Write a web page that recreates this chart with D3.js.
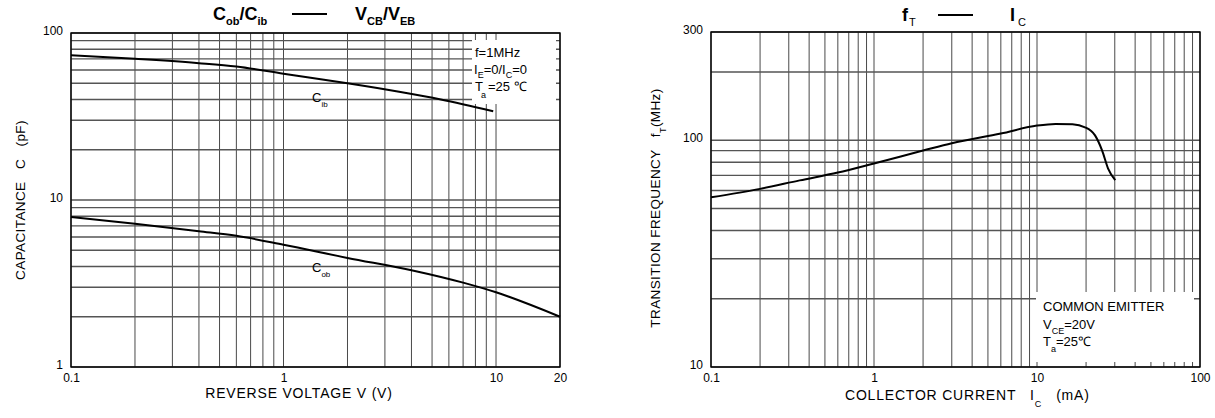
<!DOCTYPE html>
<html><head><meta charset="utf-8">
<script src="https://cdn.jsdelivr.net/npm/d3@7"></script>
<style>
body{margin:0;background:#fff;}
svg{display:block;font-family:"Liberation Sans",Arial,sans-serif;}
text{white-space:pre;}
</style></head>
<body><svg id="c" width="1215" height="418"></svg>
<script>
// ---- data ----
const cibVoltage = [0.1, 0.2, 0.4, 0.6, 1, 2, 3.5, 5.5, 9.7];
const cibCap     = [73.5, 70, 66, 63, 57, 50, 44.5, 40, 34];
const cobVoltage = [0.1, 0.2, 0.4, 0.6, 1, 2, 4, 7, 10, 20];
const cobCap     = [7.9, 7.2, 6.5, 6.1, 5.4, 4.5, 3.8, 3.2, 2.8, 2.0];
const icCurrent  = [0.1, 0.2, 0.35, 0.6, 1, 2, 3, 6, 10, 13, 16.5, 19.7, 22.7, 25.1, 27.3, 30.2];
const ftFreq     = [56, 61, 66.5, 72, 79, 90, 97, 107, 116, 118, 117.5, 114, 105, 90, 75, 66.7];
const leftXTicks = [0.1, 1, 10, 20];
const leftYTicks = [100, 10, 1];
const rightXTicks = [0.1, 1, 10, 100];
const rightYTicks = [300, 100, 10];

const svg = d3.select("#c");

function logGrid(lo, hi){
  const out=[];
  for(let e=Math.floor(Math.log10(lo)); e<=Math.ceil(Math.log10(hi)); e++){
    for(let m=1;m<10;m++){const v=m*Math.pow(10,e); if(v>=lo*0.999 && v<=hi*1.001) out.push(+v.toPrecision(3));}
  }
  return out;
}

function panel(opt){
  const x = d3.scaleLog().domain(opt.xd).range([opt.l, opt.r]);
  const y = d3.scaleLog().domain(opt.yd).range([opt.b, opt.t]);
  const g = svg.append("g");
  g.selectAll(".vg").data(logGrid(opt.xd[0],opt.xd[1])).enter().append("line")
    .attr("x1",d=>x(d)).attr("x2",d=>x(d)).attr("y1",opt.t).attr("y2",opt.b)
    .attr("stroke","#4a4a4a").attr("stroke-width",1);
  g.selectAll(".hg").data(logGrid(opt.yd[0],opt.yd[1])).enter().append("line")
    .attr("y1",d=>y(d)).attr("y2",d=>y(d)).attr("x1",opt.l).attr("x2",opt.r)
    .attr("stroke","#555").attr("stroke-width",1.4);
  g.append("rect").attr("x",opt.box[0]).attr("y",opt.box[1]).attr("width",opt.box[2]).attr("height",opt.box[3]).attr("fill","#fff");
  g.append("rect").attr("x",opt.l).attr("y",opt.t).attr("width",opt.r-opt.l).attr("height",opt.b-opt.t)
    .attr("fill","none").attr("stroke","#000").attr("stroke-width",1.4);
  const xa = d3.axisBottom(x).tickValues(opt.xt).tickFormat(d=>String(d)).tickSize(0).tickPadding(6);
  const ya = d3.axisLeft(y).tickValues(opt.yt).tickFormat(d=>String(d)).tickSize(0).tickPadding(8);
  const gx = g.append("g").attr("transform",`translate(0,${opt.b})`).call(xa);
  const gy = g.append("g").attr("transform",`translate(${opt.l},0)`).call(ya);
  [gx,gy].forEach(a=>{a.select(".domain").remove(); a.selectAll("text").attr("font-size",12).attr("fill","#000").style("font-family","Liberation Sans, Arial, sans-serif");});
  gy.selectAll("text").attr("dy","0.1em");
  return {x,y,g};
}

const line = (x,y)=>d3.line().x(d=>x(d[0])).y(d=>y(d[1])).curve(d3.curveMonotoneX);

// ---- left panel ----
const L = panel({xd:[0.1,20], yd:[1,100], l:71, r:560, t:33, b:367, xt:leftXTicks, yt:leftYTicks, box:[472,40,84,64]});
L.g.append("path").datum(d3.zip(cibVoltage,cibCap)).attr("d",line(L.x,L.y)).attr("fill","none").attr("stroke","#000").attr("stroke-width",2);
L.g.append("path").datum(d3.zip(cobVoltage,cobCap)).attr("d",line(L.x,L.y)).attr("fill","none").attr("stroke","#000").attr("stroke-width",2);

// ---- right panel ----
const R = panel({xd:[0.1,100], yd:[10,300], l:711, r:1200, t:32, b:367, xt:rightXTicks, yt:rightYTicks, box:[1036,292,158,70]});
R.g.append("path").datum(d3.zip(icCurrent,ftFreq)).attr("d",line(R.x,R.y)).attr("fill","none").attr("stroke","#000").attr("stroke-width",2);

// ---- texts ----
function rich(parent, x, y, parts, size, attrs){
  const t = parent.append("text").attr("x",x).attr("y",y).attr("font-size",size).attr("fill","#000");
  if(attrs) Object.entries(attrs).forEach(([k,v])=>t.attr(k,v));
  parts.forEach(p=>{
    const ts = t.append("tspan").text(p.t);
    if(p.sub){ ts.attr("font-size",p.sz||size*0.62).attr("dy",p.dy||6); }
    else if(p.up){ ts.attr("dy",-p.up); }
    if(p.dx) ts.attr("dx",p.dx);
    if(p.w) ts.attr("font-weight",p.w);
  });
  return t;
}

// titles
rich(svg, 213, 20, [{t:"C",w:"bold"},{t:"ob",sub:1,sz:11,dy:5,w:"bold"},{t:"/C",up:5,w:"bold"},{t:"ib",sub:1,sz:11,dy:5,w:"bold"}], 18);
svg.append("line").attr("x1",292).attr("x2",327).attr("y1",14).attr("y2",14).attr("stroke","#000").attr("stroke-width",2.2);
rich(svg, 355, 20, [{t:"V",w:"bold"},{t:"CB",sub:1,sz:11,dy:5,w:"bold"},{t:"/V",up:5,w:"bold"},{t:"EB",sub:1,sz:11,dy:5,w:"bold"}], 18);

rich(svg, 902, 21, [{t:"f",w:"bold"},{t:"T",sub:1,sz:11,dy:5,dx:1}], 18);
svg.append("line").attr("x1",938).attr("x2",973).attr("y1",15).attr("y2",15).attr("stroke","#000").attr("stroke-width",2.2);
rich(svg, 1010, 21, [{t:"I",w:"bold"},{t:"C",sub:1,sz:11,dy:5,dx:3}], 18);

// legend left
rich(svg, 475, 57, [{t:"f=1MHz"}], 13);
rich(svg, 474, 74, [{t:"I"},{t:"E",sub:1,sz:9,dy:4},{t:"=0/I",up:4},{t:"C",sub:1,sz:9,dy:4},{t:"=0",up:4}], 13);
rich(svg, 475, 91, [{t:"T"},{t:"a",sub:1,sz:9,dy:7,dx:-2},{t:"=25 ℃",up:7,dx:2}], 13);

// curve labels
rich(svg, 312, 102, [{t:"C"},{t:"ib",sub:1,sz:8,dy:5}], 13);
rich(svg, 312, 272, [{t:"C"},{t:"ob",sub:1,sz:8,dy:5}], 13);

// legend right
rich(svg, 1043, 311, [{t:"COMMON EMITTER"}], 13);
rich(svg, 1043, 329, [{t:"V"},{t:"CE",sub:1,sz:9,dy:5},{t:"=20V",up:5}], 13);
rich(svg, 1043, 346, [{t:"T"},{t:"a",sub:1,sz:9,dy:6},{t:"=25℃",up:6}], 13);

// axis labels
rich(svg, 299, 398, [{t:"REVERSE VOLTAGE V (V)"}], 14, {"text-anchor":"middle","letter-spacing":"0.8"});
rich(svg, 845, 400, [{t:"COLLECTOR CURRENT   I"},{t:"C",sub:1,sz:9,dy:7},{t:"   (mA)",up:7}], 14, {"letter-spacing":"0.8"});

rich(svg, 0, 0, [{t:"CAPACITANCE   C   (pF)"}], 13.5, {"text-anchor":"middle","letter-spacing":"0.4","transform":"translate(25,200) rotate(-90)"});
rich(svg, 0, 0, [{t:"TRANSITION FREQUENCY   f"},{t:"T",sub:1,sz:9,dy:6},{t:"(MHz)",up:6}], 13.5, {"text-anchor":"middle","letter-spacing":"0.4","transform":"translate(660,208) rotate(-90)"});
</script></body></html>
